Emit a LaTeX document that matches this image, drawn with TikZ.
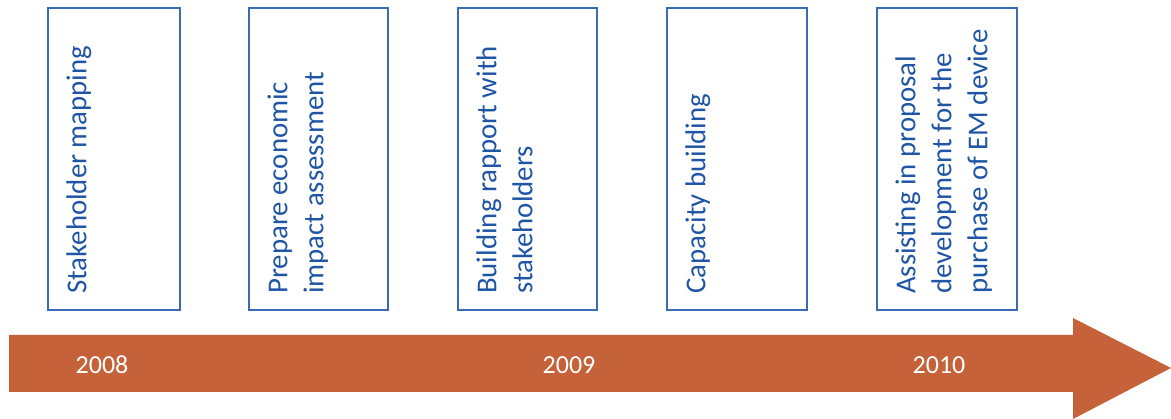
\documentclass[tikz,border=0pt]{standalone}
\usepackage{fontspec}
\setmainfont{Carlito}
\definecolor{boxblue}{HTML}{3A6BB5}
\definecolor{txtblue}{HTML}{1F55A5}
\definecolor{arroworange}{HTML}{C5623A}
\begin{document}
\begin{tikzpicture}[x=1pt,y=-1pt,
  stagebox/.style={draw=boxblue,line width=1.5pt},
  stagetext/.style={rotate=90,anchor=north west,inner sep=0pt,align=left,text=txtblue,
    font=\fontsize{28.8}{36}\selectfont},
  yeartext/.style={text=white,inner sep=0pt,font=\fontsize{26}{30}\selectfont}]
\useasboundingbox (0,0) rectangle (1171,419);
% timeline arrow
\fill[arroworange] (9,335) -- (1073,335) -- (1073,318) -- (1171,368) -- (1073,419) -- (1073,392) -- (9,392) -- cycle;
\node[yeartext] (y2008) at (102,365) {2008};
\node[yeartext] (y2009) at (569,365) {2009};
\node[yeartext] (y2010) at (939,365) {2010};
% boxes
\draw[stagebox] (48,8) rectangle (180,310);
\draw[stagebox] (249,8) rectangle (388,310);
\draw[stagebox] (458,8) rectangle (597,310);
\draw[stagebox] (667,8) rectangle (807,310);
\draw[stagebox] (877,8) rectangle (1017,310);
% texts
\node[stagetext] (t1) at (61,294) {\strut Stakeholder mapping};
\node[stagetext] (t2) at (262,294) {\strut Prepare economic\\impact assessment};
\node[stagetext] (t3) at (471,294) {\strut Building rapport with\\stakeholders};
\node[stagetext] (t4) at (680,294) {\strut Capacity building};
\node[stagetext] (t5) at (890,294) {\strut Assisting in proposal\\development for the\\purchase of EM device};
\end{tikzpicture}
\end{document}
